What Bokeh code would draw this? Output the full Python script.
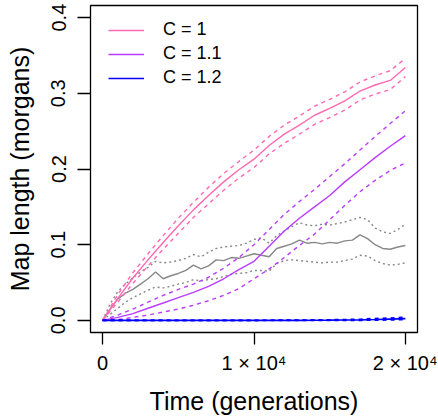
from bokeh.plotting import figure
from bokeh.models import Range1d, FixedTicker, NumeralTickFormatter, Legend, LegendItem
from bokeh.embed import file_html
from bokeh.resources import INLINE

# ---- data ----
t_1k = list(range(0, 20001, 1000))
t_500 = list(range(0, 20001, 500))

c1_mean = [0, 0.029, 0.056, 0.080, 0.103, 0.125, 0.146, 0.165, 0.183, 0.199, 0.213,
           0.231, 0.246, 0.258, 0.271, 0.280, 0.290, 0.303, 0.311, 0.317, 0.334]
c1_upper = [0, 0.034, 0.063, 0.088, 0.112, 0.135, 0.156, 0.176, 0.194, 0.210, 0.225,
            0.243, 0.258, 0.270, 0.283, 0.292, 0.302, 0.315, 0.323, 0.330, 0.346]
c1_lower = [0, 0.024, 0.049, 0.072, 0.094, 0.115, 0.136, 0.154, 0.172, 0.188, 0.202,
            0.220, 0.234, 0.246, 0.259, 0.268, 0.278, 0.291, 0.299, 0.305, 0.322]

c11_mean = [0, 0.004, 0.009, 0.016, 0.023, 0.030, 0.037, 0.045, 0.055, 0.067, 0.078,
            0.098, 0.118, 0.135, 0.150, 0.165, 0.183, 0.199, 0.215, 0.230, 0.244]
c11_upper = [0, 0.007, 0.015, 0.024, 0.033, 0.041, 0.048, 0.057, 0.069, 0.083, 0.100,
             0.120, 0.140, 0.157, 0.173, 0.190, 0.207, 0.225, 0.243, 0.260, 0.277]
c11_lower = [0, 0.001, 0.004, 0.007, 0.011, 0.015, 0.020, 0.026, 0.033, 0.042, 0.055,
             0.068, 0.083, 0.099, 0.114, 0.133, 0.152, 0.170, 0.185, 0.198, 0.208]

c12_mean = [0, 0, 0, 0, 0, 0, 0, 0, 0, 0, 0,
            0, 0, 0.0001, 0.0002, 0.0003, 0.0005, 0.0008, 0.0012, 0.0018, 0.0022]
c12_upper = [0, 0, 0, 0, 0, 0, 0, 0, 0, 0, 0.0001,
             0.0002, 0.0003, 0.0004, 0.0006, 0.0008, 0.0011, 0.0015, 0.0025, 0.0030, 0.0042]
c12_lower = [0, 0, 0, 0, 0, 0, 0, 0, 0, 0, 0,
             0, 0, 0, 0, 0, 0, 0.0001, 0.0003, 0.0006, 0.0010]

grey_mean = [0, 0.015, 0.028, 0.036, 0.041, 0.048, 0.055, 0.064, 0.055, 0.059,
             0.062, 0.066, 0.073, 0.068, 0.072, 0.080, 0.079, 0.083, 0.082, 0.085,
             0.088, 0.086, 0.084, 0.095, 0.098, 0.101, 0.106, 0.102, 0.103, 0.101,
             0.103, 0.102, 0.105, 0.106, 0.113, 0.108, 0.100, 0.095, 0.094, 0.097, 0.099]
grey_upper = [0, 0.022, 0.038, 0.048, 0.056, 0.064, 0.070, 0.078, 0.076, 0.077,
              0.079, 0.082, 0.087, 0.084, 0.090, 0.095, 0.097, 0.098, 0.099, 0.102,
              0.107, 0.109, 0.102, 0.112, 0.118, 0.124, 0.129, 0.126, 0.125, 0.127,
              0.126, 0.128, 0.130, 0.133, 0.136, 0.133, 0.122, 0.117, 0.115, 0.120, 0.127]
grey_lower = [0, 0.008, 0.016, 0.024, 0.030, 0.035, 0.040, 0.044, 0.043, 0.045,
              0.048, 0.050, 0.054, 0.052, 0.054, 0.055, 0.058, 0.061, 0.062, 0.063,
              0.066, 0.066, 0.065, 0.075, 0.079, 0.080, 0.079, 0.078, 0.077, 0.076,
              0.077, 0.077, 0.079, 0.081, 0.086, 0.085, 0.079, 0.075, 0.073, 0.074, 0.076]

legend_labels = ["C = 1", "C = 1.1", "C = 1.2"]
x_ticks = [0, 10000, 20000]
x_tick_labels = ["0", "1 × 10⁴", "2 × 10⁴"]
y_ticks = [0, 0.1, 0.2, 0.3, 0.4]

PINK = "#FF69B4"
PURPLE = "#B93CFF"
BLUE = "#0000FF"
GREY = "#888888"
FONT = "Liberation Sans"

p = figure(output_backend="svg", toolbar_location=None,
           x_range=Range1d(-800, 20800), y_range=Range1d(-0.016, 0.416),
           frame_width=327, frame_height=327,
           min_border_left=90, min_border_right=20, min_border_top=5, min_border_bottom=86)
p.xgrid.visible = False
p.ygrid.visible = False
p.outline_line_color = "black"
p.outline_line_width = 1.3
p.outline_line_alpha = 1.0

LW = 1.4
# grey (not in legend)
p.line(t_500, grey_upper, color=GREY, line_width=LW, line_dash="2 3")
p.line(t_500, grey_lower, color=GREY, line_width=LW, line_dash="2 3")
p.line(t_500, grey_mean, color=GREY, line_width=LW)

p.line(t_1k, c1_upper, color=PINK, line_width=LW, line_dash="4 4")
p.line(t_1k, c1_lower, color=PINK, line_width=LW, line_dash="4 4")
k1 = p.line(t_1k, c1_mean, color=PINK, line_width=LW)

p.line(t_1k, c11_upper, color=PURPLE, line_width=LW, line_dash="4 4")
p.line(t_1k, c11_lower, color=PURPLE, line_width=LW, line_dash="4 4")
k2 = p.line(t_1k, c11_mean, color=PURPLE, line_width=LW)

p.line(t_1k, c12_upper, color=BLUE, line_width=1.7, line_dash="4 4")
p.line(t_1k, c12_lower, color=BLUE, line_width=1.7, line_dash="4 4")
k3 = p.line(t_1k, c12_mean, color=BLUE, line_width=1.7)

# axes
for ax in (p.xaxis[0], p.yaxis[0]):
    ax.axis_line_color = None
    ax.minor_tick_line_color = None
    ax.major_tick_in = 0
    ax.major_tick_line_width = 1.3
    ax.major_tick_line_color = "black"
    ax.major_label_text_font = FONT
    ax.major_label_text_font_size = "20px"
    ax.major_label_text_color = "black"
    ax.axis_label_text_font = FONT
    ax.axis_label_text_font_size = "25px"
    ax.axis_label_text_font_style = "normal"
    ax.axis_label_text_color = "black"
    ax.axis_label_text_line_height = 1.0

p.xaxis.ticker = FixedTicker(ticks=x_ticks)
p.xaxis.major_label_overrides = dict(zip(x_ticks, x_tick_labels))
p.xaxis.major_tick_out = 12
p.xaxis.major_label_standoff = 7
p.xaxis.axis_label = "Time (generations)"
p.xaxis.axis_label_standoff = 10

p.yaxis.ticker = FixedTicker(ticks=y_ticks)
p.yaxis.formatter = NumeralTickFormatter(format="0.0")
p.yaxis.major_tick_out = 13
p.yaxis.major_label_orientation = "vertical"
p.yaxis.major_label_standoff = 12
p.yaxis.axis_label = "Map length (morgans)"
p.yaxis.axis_label_standoff = 15

lg = Legend(items=[LegendItem(label=legend_labels[0], renderers=[k1]),
                   LegendItem(label=legend_labels[1], renderers=[k2]),
                   LegendItem(label=legend_labels[2], renderers=[k3])],
            location=(18, 244), orientation="vertical",
            glyph_width=36, glyph_height=20, label_height=20, spacing=3,
            label_standoff=19, padding=0, margin=0,
            border_line_color=None, background_fill_alpha=0,
            label_text_font=FONT, label_text_font_size="18px",
            label_text_color="black")
p.add_layout(lg)

open("out.html", "w").write(file_html(p, INLINE))
